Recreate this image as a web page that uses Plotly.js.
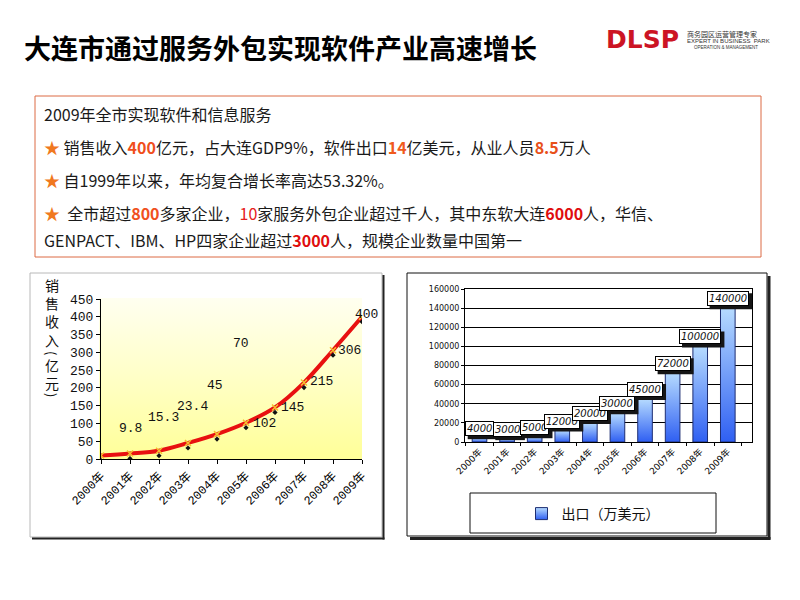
<!DOCTYPE html>
<html>
<head>
<meta charset="utf-8">
<script src="https://cdn.plot.ly/plotly-3.0.1.min.js"></script>
<style>html,body{margin:0;padding:0;background:#fff;}#chart{width:800px;height:600px;}</style>
</head>
<body>
<div id="chart"></div>
<script>
// ---------- data ----------
const years = ['2000年','2001年','2002年','2003年','2004年','2005年','2006年','2007年','2008年','2009年'];
const revenue = [9.8, 15.3, 23.4, 45, 70, 102, 145, 215, 306, 400];          // 销售收入（亿元）
const exportsUSD = [4000, 3000, 5000, 12000, 20000, 30000, 45000, 72000, 100000, 140000]; // 出口（万美元）
const exportName = '出口（万美元）';
const leftAxisTitleParts = ['销<br>售<br>收<br>入', '(', '亿<br>元', ')'];
const pageTitle = '大连市通过服务外包实现软件产业高速增长';

// ---------- styles / positions (pixels) ----------
const revLabelDX = [29, 33, 33, 27, 24, 18, 17, 17, 16, 4];
const revLabelDY = [27, 36, 44, 58, 91, -1, 0, 1, 0, 2];
const axisTitleY = [312, 353, 374, 395];

const W = 800, H = 600;
const px = x => x / W;
const py = y => 1 - y / H;

const cjk = 'Noto Sans CJK SC, sans-serif';
const mono = 'Liberation Mono, Noto Sans CJK SC, monospace';
const small = 'DejaVu Sans, Noto Sans CJK SC, sans-serif';

const traces = [
  {
    x: years, y: revenue, xaxis: 'x', yaxis: 'y', type: 'scatter', mode: 'lines',
    line: {shape: 'spline', smoothing: 1, color: '#e81010', width: 4},
    showlegend: false, hoverinfo: 'skip'
  },
  {
    x: years, y: revenue, xaxis: 'x', yaxis: 'y3', type: 'scatter', mode: 'markers',
    marker: {symbol: 'diamond', size: 4, color: '#111'},
    showlegend: false, hoverinfo: 'skip'
  },
  {
    x: years, y: revenue, xaxis: 'x', yaxis: 'y', type: 'scatter', mode: 'markers',
    marker: {symbol: 'x-thin', size: 6, line: {color: '#f5c030', width: 1.5}, color: '#f5c030'},
    showlegend: false, hoverinfo: 'skip'
  },
  {
    x: years, y: exportsUSD, xaxis: 'x2', yaxis: 'y2', type: 'bar', name: exportName,
    marker: {color: '#6d9cf5', line: {color: '#1d2d72', width: 1}},
    showlegend: true, hoverinfo: 'skip'
  }
];

const annotations = [];
// page title
annotations.push({xref: 'paper', yref: 'paper', x: px(22), y: py(48), xanchor: 'left', yanchor: 'middle',
  text: '<b>' + pageTitle + '</b>', showarrow: false,
  font: {family: cjk, size: 27, color: '#000'}});
// logo
annotations.push({xref: 'paper', yref: 'paper', x: px(642), y: py(40), xanchor: 'center', yanchor: 'middle',
  text: '<b>DLSP</b>', showarrow: false, font: {family: 'DejaVu Sans, sans-serif', size: 25, color: '#cc1424'}});
annotations.push({xref: 'paper', yref: 'paper', x: px(685), y: py(34), xanchor: 'left', yanchor: 'middle',
  text: '商务园区运营管理专家', showarrow: false, font: {family: cjk, size: 7, color: '#333'}});
annotations.push({xref: 'paper', yref: 'paper', x: px(685), y: py(41), xanchor: 'left', yanchor: 'middle',
  text: 'EXPERT IN BUSINESS  PARK', showarrow: false, font: {family: 'Liberation Sans, sans-serif', size: 6, color: '#333'}});
annotations.push({xref: 'paper', yref: 'paper', x: px(692), y: py(47.5), xanchor: 'left', yanchor: 'middle',
  text: 'OPERATION & MANAGEMENT', showarrow: false, font: {family: 'Liberation Sans, sans-serif', size: 4.5, color: '#333'}});

// text box lines
const star = '<span style="color:#f07820">★</span>';
const hl = (t, c, b) => (b ? '<b>' : '') + '<span style="color:' + c + '">' + t + '</span>' + (b ? '</b>' : '');
const textLines = [
  '2009年全市实现软件和信息服务',
  star + ' 销售收入' + hl('400', '#f04e1b', true) + '亿元，占大连GDP9%，软件出口' + hl('14', '#f05a1c', true) + '亿美元，从业人员' + hl('8.5', '#e8501a', true) + '万人',
  star + ' 自1999年以来，年均复合增长率高达53.32%。',
  star + '  全市超过' + hl('800', '#f05020', true) + '多家企业，' + hl('10', '#e62020', false) + '家服务外包企业超过千人，其中东软大连' + hl('6000', '#e00d0d', true) + '人，华信、',
  'GENPACT、IBM、HP四家企业超过' + hl('3000', '#e00d0d', true) + '人，规模企业数量中国第一'
];
const textLineY = [114, 147, 180, 213, 240];
textLines.forEach((t, i) => annotations.push({xref: 'paper', yref: 'paper', x: px(42), y: py(textLineY[i]),
  xanchor: 'left', yanchor: 'middle', text: t, showarrow: false, font: {family: cjk, size: 16, color: '#1a1a1a'}}));

// left axis title (vertical, stacked characters; parentheses turned)
leftAxisTitleParts.forEach((c, i) => {
  const paren = (c === '(' || c === ')');
  annotations.push({xref: 'paper', yref: 'paper', x: px(52), y: py(axisTitleY[i]),
    xanchor: 'center', yanchor: 'middle', text: c, showarrow: false, textangle: paren ? 90 : 0,
    font: {family: cjk, size: paren ? 13 : 14, color: '#111'}});
});

// left data labels
revenue.forEach((v, i) => annotations.push({xref: 'x', yref: 'y', x: years[i], y: v, text: String(v),
  showarrow: false, xanchor: 'center', yanchor: 'middle', xshift: revLabelDX[i], yshift: revLabelDY[i],
  font: {family: mono, size: 13, color: '#111'}}));

// right data labels (white box) + drop shadows drawn as shapes
const shadowShapes = [];
exportsUSD.forEach((v, i) => {
  annotations.push({xref: 'x2', yref: 'y2', x: years[i], y: v, text: String(v), showarrow: false,
    xanchor: 'center', yanchor: 'bottom', xshift: 0, yshift: 2, bgcolor: '#fff', bordercolor: '#000',
    borderwidth: 1, borderpad: 1, font: {family: small, size: 10, color: '#111', style: 'italic'}});
  const w = String(v).length * 6.4 + 4;
  shadowShapes.push({type: 'rect', xref: 'x2', yref: 'y2', xsizemode: 'pixel', ysizemode: 'pixel',
    xanchor: years[i], yanchor: v, x0: -w / 2 + 3, x1: w / 2 + 3, y0: -1, y1: 15,
    fillcolor: '#151515', line: {width: 0}, layer: 'above'});
});

const line = (x0, y0, x1, y1, c, w) => ({type: 'line', xref: 'paper', yref: 'paper', x0: px(x0), y0: py(y0), x1: px(x1), y1: py(y1), line: {color: c, width: w}});
const rect = (x0, y0, x1, y1, c, w, layer) => ({type: 'rect', xref: 'paper', yref: 'paper', x0: px(x0), y0: py(y1), x1: px(x1), y1: py(y0), line: {color: c, width: w}, fillcolor: 'rgba(0,0,0,0)', layer: layer || 'above'});

const shapes = [
  {type: 'rect', xref: 'paper', yref: 'paper', x0: px(99), x1: px(362), y0: py(459), y1: py(298), fillcolor: '#ffffc8', line: {width: 0}, layer: 'below'},
  rect(30, 273, 382, 537, '#b8b8b8', 1, 'below'),
  line(383.5, 275, 383.5, 539.5, '#222', 2),
  line(32, 538.5, 384.5, 538.5, '#222', 2),
  rect(407, 273, 767, 536, '#111', 1, 'below'),
  line(769, 276, 769, 539.5, '#222', 3),
  line(410, 538.5, 770.5, 538.5, '#222', 3),
  rect(470, 493, 716, 533, '#111', 1, 'below'),
  rect(35, 96, 761, 257, '#dc6a44', 1, 'below')
].concat(shadowShapes);

const layout = {
  width: W, height: H, autosize: false,
  margin: {l: 0, r: 0, t: 0, b: 0, pad: 0},
  paper_bgcolor: '#fff', plot_bgcolor: 'rgba(0,0,0,0)',
  showlegend: true,
  legend: {x: px(593), y: py(514), xanchor: 'center', yanchor: 'middle', bgcolor: 'rgba(0,0,0,0)', borderwidth: 0,
    font: {family: cjk, size: 14, color: '#111'}},
  bargap: 0.47,
  xaxis: {domain: [px(101), px(362)], anchor: 'y', type: 'category', range: [0, 9],
    showline: true, linecolor: '#000', linewidth: 1, ticks: 'outside', ticklen: 4, tickcolor: '#000',
    tickangle: -45, tickfont: {family: mono, size: 12, color: '#000'}, showgrid: false, zeroline: false, fixedrange: true},
  yaxis: {domain: [py(459), py(299)], anchor: 'x', range: [0, 450], dtick: 50,
    showline: true, linecolor: '#000', linewidth: 1, ticks: 'outside', ticklen: 4, tickcolor: '#000',
    tickfont: {family: mono, size: 13, color: '#111'}, showgrid: false, zeroline: false, fixedrange: true},
  yaxis3: {overlaying: 'y', anchor: 'x', range: [14, 464], visible: false, fixedrange: true},
  xaxis2: {domain: [px(465), px(752)], anchor: 'y2', type: 'category',
    showline: true, mirror: true, linecolor: '#000', linewidth: 1, ticks: 'outside', ticklen: 3, tickcolor: '#000',
    tickson: 'boundaries', tickangle: -45, tickfont: {family: small, size: 9, color: '#000'},
    showgrid: false, zeroline: false, fixedrange: true},
  yaxis2: {domain: [py(442), py(289)], anchor: 'x2', range: [0, 160000], dtick: 20000, tickformat: 'd',
    showline: true, mirror: true, linecolor: '#000', linewidth: 1, ticks: 'outside', ticklen: 3, tickcolor: '#000',
    showgrid: true, gridcolor: '#000', gridwidth: 1, zeroline: false,
    tickfont: {family: small, size: 8, color: '#111'}, fixedrange: true},
  annotations: annotations,
  shapes: shapes
};

Plotly.newPlot('chart', traces, layout, {displayModeBar: false, staticPlot: true}).then(gd => {
  const NS = 'http://www.w3.org/2000/svg';
  const svg = gd.querySelector('svg.main-svg');
  let defs = svg.querySelector('defs');
  if (!defs) { defs = document.createElementNS(NS, 'defs'); svg.insertBefore(defs, svg.firstChild); }
  const grad = (id, stops) => {
    const g = document.createElementNS(NS, 'linearGradient');
    g.setAttribute('id', id); g.setAttribute('x1', '0'); g.setAttribute('y1', '0'); g.setAttribute('x2', '0'); g.setAttribute('y2', '1');
    stops.forEach(([o, c]) => { const s = document.createElementNS(NS, 'stop'); s.setAttribute('offset', o); s.setAttribute('stop-color', c); g.appendChild(s); });
    defs.appendChild(g);
  };
  grad('barGrad', [['0', '#b6dbff'], ['1', '#2f5ff2']]);
  grad('yelGrad', [['0', '#fffff0'], ['0.5', '#ffffc6'], ['1', '#ffff98']]);
  gd.querySelectorAll('.barlayer .point path, .legend .legendpoints path').forEach(p => { p.style.fill = 'url(#barGrad)'; });
  gd.querySelectorAll('.shapelayer path[data-index="0"]').forEach(p => { p.style.fill = 'url(#yelGrad)'; });
});
</script>
</body>
</html>
